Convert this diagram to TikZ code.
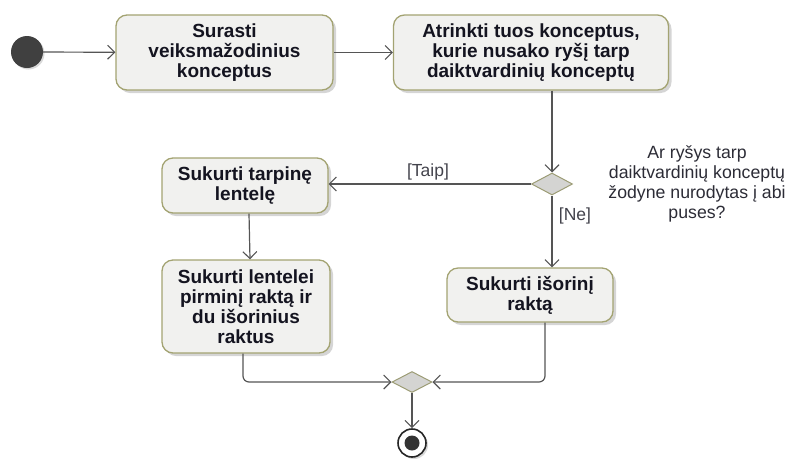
\documentclass[tikz,border=0pt]{standalone}
\usepackage{fontspec}
\setmainfont{Liberation Sans}
\usetikzlibrary{arrows.meta,shapes.geometric,shadows,calc}
\definecolor{boxfill}{HTML}{F1F1EF}
\definecolor{boxline}{HTML}{A3A372}
\definecolor{flowline}{HTML}{555555}
\definecolor{dfill}{HTML}{D4D4D2}
\definecolor{txt}{HTML}{141420}
\begin{document}
\begin{tikzpicture}[x=1pt,y=-1pt,
  action/.style={rectangle, rounded corners=11pt, draw=boxline, line width=1.3pt,
    fill=boxfill, inner sep=0pt, align=center, text=txt,
    font=\fontsize{19}{20}\selectfont\bfseries,
    drop shadow={shadow xshift=3pt, shadow yshift=-3pt, fill=black!30, opacity=0.55}},
  decision/.style={diamond, draw=boxline!80!gray, line width=1pt, fill=dfill,
    inner sep=0pt, minimum width=41pt, minimum height=22pt, aspect=1.8},
  flow/.style={draw=flowline, line width=1.2pt, -{Straight Barb[length=7pt,width=14pt,line width=1.1pt]}},
  guard/.style={font=\fontsize{17.5}{20}\selectfont, text=txt!80},
  note/.style={font=\fontsize{17.7}{20}\selectfont, text=txt!90, align=center}
]
\useasboundingbox (0,0) rectangle (791,459);

% start and end
\node[circle, fill=black!75, minimum size=32pt, inner sep=0pt,
  drop shadow={shadow xshift=1.5pt, shadow yshift=-1.5pt, fill=black!25, opacity=0.6}] (start) at (27,52) {};
\node[circle, draw=black!85, line width=1.6pt, fill=white, minimum size=28pt, inner sep=0pt,
  drop shadow={shadow xshift=2pt, shadow yshift=-2pt, fill=black!25, opacity=0.6}] (end) at (412,443) {};
\node[circle, fill=black!80, minimum size=15pt, inner sep=0pt] (endcore) at (end) {};

% actions
\node[action, minimum width=217pt, minimum height=75pt] (a1) at (224.5,52.5)
  {Surasti\\veiksmažodinius\\konceptus};
\node[action, minimum width=275pt, minimum height=75pt] (a2) at (531,52.5)
  {Atrinkti tuos konceptus,\\kurie nusako ryšį tarp\\daiktvardinių konceptų};
\node[action, minimum width=166pt, minimum height=55pt] (a3) at (245,185.5)
  {Sukurti tarpinę\\lentelę};
\node[action, minimum width=168pt, minimum height=93pt] (a4) at (246,306.5)
  {Sukurti lentelei\\pirminį raktą ir\\du išorinius\\raktus};
\node[action, minimum width=166pt, minimum height=54pt] (a5) at (530,295)
  {Sukurti išorinį\\raktą};

% decision and merge
\node[decision] (d1) at (552,184) {};
\node[decision, minimum width=40pt, minimum height=21pt] (d2) at (412,382) {};

% texts
\node[note] (q) at (697,184)
  {Ar ryšys tarp\\daiktvardinių konceptų\\žodyne nurodytas į abi\\puses?};
\node[guard] (gyes) at (428,172) {[Taip]};
\node[guard] (gno) at (575,216) {[Ne]};

% connectors
\draw[flow] (start) -- (a1);
\draw[flow] (a1) -- (a2);
\draw[flow] (a2.south -| d1.north) -- (d1.north);
\draw[flow] (d1.west) -- (d1.west -| a3.east);
\draw[flow] ([xshift=4pt]a3.south) -- ([xshift=4pt]a4.north);
\draw[flow] (d1.south) -- (d1.south |- a5.north);
\draw[flow, rounded corners=6pt] ([xshift=-3pt]a4.south) |- (d2.west);
\draw[flow, rounded corners=6pt] ([xshift=15pt]a5.south) |- (d2.east);
\draw[flow] (d2.south) -- (end.north);
\end{tikzpicture}
\end{document}
